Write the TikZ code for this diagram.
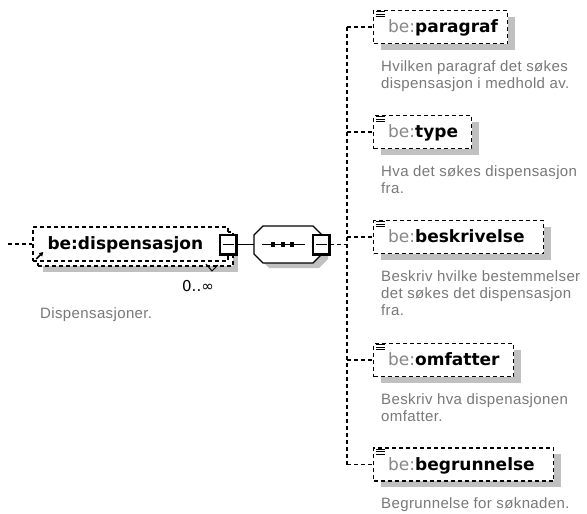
\documentclass[tikz,border=0pt]{standalone}
\usepackage{fontspec}
\setmainfont{DejaVu Sans}
\newfontfamily\descfont[LetterSpace=2.5]{Liberation Sans}
\usetikzlibrary{calc,arrows.meta,shadows}
\definecolor{shadowgray}{RGB}{192,192,192}
\definecolor{prefixgray}{RGB}{135,135,135}
\definecolor{descgray}{RGB}{120,120,120}
\newcommand\texticon[1]{%
  \foreach \dy in {2,4.5,7} {\draw[line width=0.9pt] ($(#1.north west)+(3,\dy)$) -- ++(9,0);}}
\newcommand\btnface[1]{%
  \draw[line width=2pt] (#1.north east) -- (#1.south east) -- (#1.south west);
  \draw[line width=1pt] ($(#1.center)+(-5.5,0)$) -- ($(#1.center)+(5.5,0)$);}
\begin{document}
\begin{tikzpicture}[x=1pt,y=-1pt,
  conn/.style={line width=1.4pt, dash pattern=on 4pt off 3pt},
  ebox/.style={draw, dash pattern=on 4pt off 3pt, line width=1.4pt, fill=white, inner sep=0pt, minimum height=33pt},
  eshadow/.style={drop shadow={shadow xshift=7pt, shadow yshift=-6pt, fill=shadowgray, opacity=1}},
  ename/.style={anchor=base west, inner sep=0pt, font=\fontsize{17}{20}\selectfont},
  desc/.style={anchor=north west, inner sep=0pt, align=left, text=descgray, font=\descfont\fontsize{15}{17}\selectfont},
  btn/.style={draw, fill=white, line width=1.2pt, minimum width=16pt, minimum height=19pt, inner sep=0pt}]
\useasboundingbox (0,0) rectangle (587,514);

% ---------- main element ----------
\node[ebox, minimum width=195pt, minimum height=34pt,
      drop shadow={shadow xshift=5pt, shadow yshift=-6pt, fill=shadowgray, opacity=1}] (mainback) at (135.5,249) {};
\node[ebox, minimum width=195pt, minimum height=34pt] (main) at (130.5,244) {};
\node[ename] (maint) at ($(main.west)+(15,5.5)$) {\textbf{be:dispensasjon}};
\draw[line width=1.6pt, -{Triangle[length=4pt,width=4.5pt]}] ($(main.west)+(4,15)$) -- ($(main.west)+(11,8)$);
\draw[line width=1pt] (206,264) -- (212,271) -- (218,265);
\node[btn] (mbtn) at (228,244.5) {};
\btnface{mbtn}
\node[anchor=base west, inner sep=0pt, font=\fontsize{15}{17}\selectfont] (card) at (182,291) {0..∞};
\node[desc, anchor=base west] (maind) at (40,318) {Dispensasjoner.};

% ---------- sequence compositor ----------
\node[minimum width=68pt, minimum height=37pt, inner sep=0pt] (seq) at (288,244.5) {};
\fill[shadowgray, shift={(6,5)}] (254,235) -- (263,226) -- (313,226) -- (322,235) -- (322,254) -- (313,263) -- (263,263) -- (254,254) -- cycle;
\draw[fill=white, line width=1.2pt] (254,235) -- (263,226) -- (313,226) -- (322,235) -- (322,254) -- (313,263) -- (263,263) -- (254,254) -- cycle;
\draw[line width=1.2pt] (262,244.5) -- (305,244.5);
\foreach \sx in {273,283,292} {\fill (\sx-2.2,242.3) rectangle (\sx+2.2,246.7);}
\node[btn] (sbtn) at (321,244.5) {};
\btnface{sbtn}
\coordinate (tr) at (347,244.5);

% ---------- children ----------
\node[ebox, eshadow, minimum width=134pt, anchor=west] (c1) at (373,27) {};
\node[ebox, eshadow, minimum width=98pt,  anchor=west] (c2) at (373,132) {};
\node[ebox, eshadow, minimum width=170pt, anchor=west] (c3) at (373,237) {};
\node[ebox, eshadow, minimum width=140pt, anchor=west] (c4) at (373,360) {};
\node[ebox, eshadow, minimum width=180pt, anchor=west] (c5) at (373,464.5) {};

\node[ename] (c1t) at ($(c1.west)+(15,5.5)$) {{\color{prefixgray}be:}\textbf{paragraf}};
\node[ename] (c2t) at ($(c2.west)+(15,5.5)$) {{\color{prefixgray}be:}\textbf{type}};
\node[ename] (c3t) at ($(c3.west)+(15,5.5)$) {{\color{prefixgray}be:}\textbf{beskrivelse}};
\node[ename] (c4t) at ($(c4.west)+(15,5.5)$) {{\color{prefixgray}be:}\textbf{omfatter}};
\node[ename] (c5t) at ($(c5.west)+(15,5.5)$) {{\color{prefixgray}be:}\textbf{begrunnelse}};

\texticon{c1}\texticon{c2}\texticon{c3}\texticon{c4}\texticon{c5}

\node[desc] (c1d) at ($(c1.west)+(8,32.1)$) {\strut Hvilken paragraf det søkes\\\strut dispensasjon i medhold av.};
\node[desc] (c2d) at ($(c2.west)+(8,32.1)$) {\strut Hva det søkes dispensasjon\\\strut fra.};
\node[desc] (c3d) at ($(c3.west)+(8,32.1)$) {\strut Beskriv hvilke bestemmelser\\\strut det søkes det dispensasjon\\\strut fra.};
\node[desc] (c4d) at ($(c4.west)+(8,32.1)$) {\strut Beskriv hva dispenasjonen\\\strut omfatter.};
\node[desc] (c5d) at ($(c5.west)+(8,32.1)$) {\strut Begrunnelse for søknaden.};

% ---------- connectors ----------
\coordinate (inpt) at (8,244);
\draw[conn] (inpt) -- (main.west);
\draw[line width=1.2pt] (mbtn.east) -- (seq.west);
\draw[conn] (sbtn.east) -- (tr);
\draw[conn] (c1.west -| tr) -- (c5.west -| tr);
\foreach \c in {c1,c2,c3,c4,c5} {\draw[conn] (\c.west -| tr) -- (\c.west);}
\end{tikzpicture}
\end{document}
